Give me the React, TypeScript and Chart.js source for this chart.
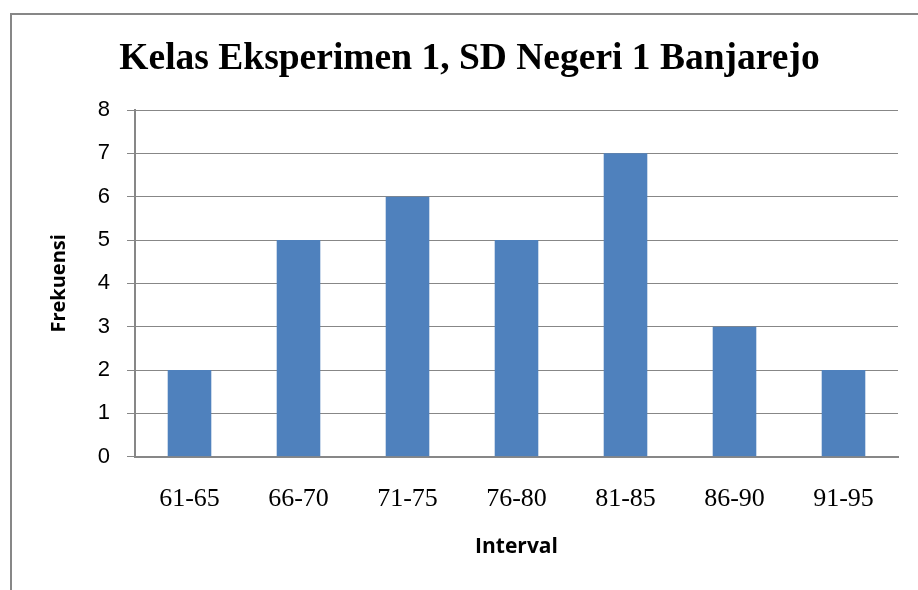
import React, { useEffect, useRef } from "react";
import { Chart, registerables } from "chart.js";

Chart.register(...registerables);

const chartTitle = "Kelas Eksperimen 1, SD Negeri 1 Banjarejo";
const categories = ["61-65", "66-70", "71-75", "76-80", "81-85", "86-90", "91-95"];
const frequencies = [2, 5, 6, 5, 7, 3, 2];
const yTitle = "Frekuensi";
const xTitle = "Interval";
const yMin = 0;
const yMax = 8;
const yStep = 1;

export default function App() {
  const canvasRef = useRef<HTMLCanvasElement | null>(null);

  useEffect(() => {
    if (!canvasRef.current) return;
    const gray = "#878787";
    const chart = new Chart(canvasRef.current, {
      type: "bar",
      data: {
        labels: categories,
        datasets: [
          {
            data: frequencies,
            backgroundColor: "#4F81BD",
            borderWidth: 0,
            categoryPercentage: 1,
            barPercentage: 0.4,
          },
        ],
      },
      options: {
        responsive: false,
        animation: false,
        events: [],
        layout: { padding: { left: 29, right: 20, top: 0, bottom: 0 } },
        plugins: {
          legend: { display: false },
          tooltip: { enabled: false },
          title: {
            display: true,
            text: chartTitle,
            color: "#000",
            font: { family: "'Liberation Serif', 'Times New Roman', serif", size: 37.5, weight: "bold" },
            padding: { top: 22, bottom: 28 },
          },
        },
        scales: {
          x: {
            grid: { display: false, drawTicks: false },
            border: { display: true, color: gray, width: 2 },
            ticks: {
              color: "#000",
              padding: 27,
              font: { family: "'Liberation Serif', 'Times New Roman', serif", size: 26 },
            },
            title: {
              display: true,
              text: xTitle,
              color: "#000",
              font: { family: "'Open Sans', sans-serif", size: 21, weight: "bold" },
              padding: { top: 0, bottom: 30.5 },
            },
            afterFit: (scale: any) => {
              scale.height = 133.3;
            },
          },
          y: {
            min: yMin,
            max: yMax,
            grid: { color: gray, lineWidth: 1, tickLength: 8, drawTicks: true },
            border: { display: true, color: gray, width: 2 },
            ticks: {
              stepSize: yStep,
              color: "#000",
              padding: 17,
              font: { family: "'Liberation Sans', Arial, sans-serif", size: 22 },
            },
            title: {
              display: true,
              text: yTitle,
              color: "#000",
              font: { family: "'Open Sans', sans-serif", size: 20, weight: "bold" },
              padding: { top: 6.5, bottom: 0 },
            },
            afterFit: (scale: any) => {
              scale.width = 94;
            },
          },
        },
      },
    });
    return () => chart.destroy();
  }, []);

  return (
    <div
      style={{
        position: "absolute",
        left: 10,
        top: 13,
        width: 908,
        height: 575,
        borderLeft: "2px solid #878787",
        borderTop: "2px solid #878787",
        background: "#fff",
        overflow: "hidden",
      }}
    >
      <canvas ref={canvasRef} width={906} height={575} style={{ display: "block" }} />
    </div>
  );
}
